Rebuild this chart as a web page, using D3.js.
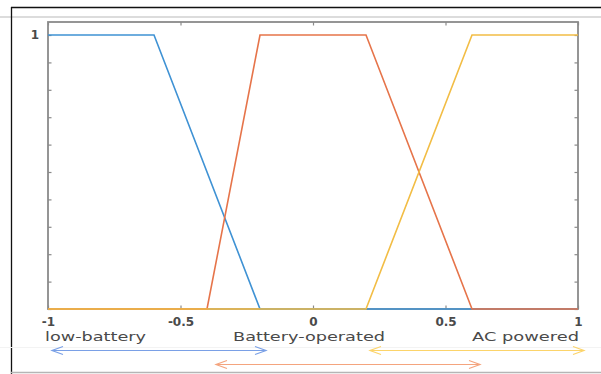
<!DOCTYPE html>
<html>
<head>
<meta charset="utf-8">
<script src="https://cdn.jsdelivr.net/npm/d3@7/dist/d3.min.js"></script>
<style>
  html, body { margin: 0; padding: 0; background: #fff; }
  svg { display: block; }
  text { font-family: "DejaVu Sans", sans-serif; }
</style>
</head>
<body>
<svg id="chart" width="601" height="374"></svg>
<script>
// Membership functions of the power-source input (trapezoids)
const seriesNames = ["low-battery", "Battery-operated", "AC powered"];
const lowBatteryX = [-1, -0.6, -0.2, 1];
const lowBatteryY = [1, 1, 0, 0];
const batteryOpX = [-1, -0.4, -0.2, 0.2, 0.6, 1];
const batteryOpY = [0, 0, 1, 1, 0, 0];
const acPoweredX = [-1, 0.2, 0.6, 1];
const acPoweredY = [0, 0, 1, 1];
const xTicks = [-1, -0.5, 0, 0.5, 1];
const xTickLabels = ["-1", "-0.5", "0", "0.5", "1"];
const yTicks = [0, 0.1, 0.2, 0.3, 0.4, 0.5, 0.6, 0.7, 0.8, 0.9, 1];
const yTickLabels = ["", "", "", "", "", "", "", "", "", "", "1"];
// Range of each set along the input, shown as arrows below the axis
const rangeStart = [-1, -0.4, 0.2];
const rangeEnd = [-0.2, 0.6, 1];

const lineColors = ["#3f92d4", "#e6744a", "#f2bd45"];
const arrowColors = ["#7aa0e6", "#f4a47e", "#fcd46a"];

const svg = d3.select("#chart");
const x = d3.scaleLinear().domain([-1, 1]).range([48, 578]);
const y = d3.scaleLinear().domain([0, 1.0475]).range([309, 22]);

// Outer figure frame
svg.append("line").attr("x1", 0).attr("x2", 601).attr("y1", 17).attr("y2", 17)
  .attr("stroke", "#dcdcdc").attr("stroke-width", 2);
svg.append("line").attr("x1", 11).attr("x2", 601).attr("y1", 7.5).attr("y2", 7.5)
  .attr("stroke", "#111").attr("stroke-width", 1.3);
svg.append("line").attr("x1", 11.5).attr("x2", 11.5).attr("y1", 7).attr("y2", 374)
  .attr("stroke", "#111").attr("stroke-width", 1.3);
svg.append("line").attr("x1", 0).attr("x2", 601).attr("y1", 347.5).attr("y2", 347.5)
  .attr("stroke", "#f3f3f3").attr("stroke-width", 1);
svg.append("line").attr("x1", 11).attr("x2", 601).attr("y1", 372.5).attr("y2", 372.5)
  .attr("stroke", "#b5b5b5").attr("stroke-width", 1.5);

// Axes box with inward ticks
const axisColor = "#8a8a8a";
const tickLen = 3.5;
const axG = svg.append("g");
axG.append("rect").attr("x", x(-1)).attr("y", y(1.0475))
  .attr("width", x(1) - x(-1)).attr("height", y(0) - y(1.0475))
  .attr("fill", "none").attr("stroke", axisColor).attr("stroke-width", 1.8);

const bottomAxis = d3.axisBottom(x).tickValues(xTicks).tickSize(-tickLen)
  .tickFormat((d, i) => xTickLabels[i]).tickPadding(8);
const topAxis = d3.axisTop(x).tickValues(xTicks).tickSize(-tickLen).tickFormat("");
const leftAxis = d3.axisLeft(y).tickValues(yTicks).tickSize(-tickLen)
  .tickFormat((d, i) => yTickLabels[i]).tickPadding(9);
const rightAxis = d3.axisRight(y).tickValues(yTicks).tickSize(-tickLen).tickFormat("");

function styleAxis(g) {
  g.select(".domain").remove();
  g.selectAll(".tick line").attr("stroke", axisColor).attr("stroke-width", 1.2);
  g.selectAll(".tick text").attr("fill", "#444").attr("font-size", 12)
    .attr("font-family", "DejaVu Sans, sans-serif");
}
axG.append("g").attr("transform", `translate(0,${y(0)})`).call(bottomAxis).call(styleAxis);
axG.append("g").attr("transform", `translate(0,${y(1.0475)})`).call(topAxis).call(styleAxis);
axG.append("g").attr("transform", `translate(${x(-1)},0)`).call(leftAxis).call(styleAxis);
axG.append("g").attr("transform", `translate(${x(1)},0)`).call(rightAxis).call(styleAxis);
axG.selectAll(".tick text").attr("font-weight", "bold").attr("fill", "#4a4a4a");

// Membership curves
const series = [
  lowBatteryX.map((v, i) => [v, lowBatteryY[i]]),
  batteryOpX.map((v, i) => [v, batteryOpY[i]]),
  acPoweredX.map((v, i) => [v, acPoweredY[i]])
];
const line = d3.line().x(d => x(d[0])).y(d => y(d[1]));
svg.append("g").selectAll("path").data(series).join("path")
  .attr("d", line).attr("fill", "none")
  .attr("stroke", (d, i) => lineColors[i]).attr("stroke-width", 1.6);

// Set names under the axis
const labelG = svg.append("g").attr("fill", "#4a4a4a").attr("font-size", 12.5);
labelG.append("text").attr("x", 45).attr("y", 340.5).attr("textLength", 101)
  .attr("lengthAdjust", "spacingAndGlyphs").text(seriesNames[0]);
labelG.append("text").attr("x", 233).attr("y", 340.5).attr("textLength", 152)
  .attr("lengthAdjust", "spacingAndGlyphs").text(seriesNames[1]);
labelG.append("text").attr("x", 472).attr("y", 340.5).attr("textLength", 107)
  .attr("lengthAdjust", "spacingAndGlyphs").text(seriesNames[2]);

// Double-headed range arrows
const arrowY = [350.5, 364.5, 350.5];
const padStart = [4, 9, 4];
const padEnd = [6, 8, 6];
const arrowG = svg.append("g").attr("fill", "none").attr("stroke-width", 1.2);
rangeStart.forEach((s, i) => {
  const x0 = x(s) + padStart[i], x1 = x(rangeEnd[i]) + padEnd[i];
  const yy = arrowY[i];
  const g = arrowG.append("g").attr("stroke", arrowColors[i]);
  g.append("line").attr("x1", x0).attr("x2", x1).attr("y1", yy).attr("y2", yy);
  g.append("path").attr("d", `M${x0 + 11},${yy - 4}L${x0},${yy}L${x0 + 11},${yy + 4}`);
  g.append("path").attr("d", `M${x1 - 11},${yy - 4}L${x1},${yy}L${x1 - 11},${yy + 4}`);
});
</script>
</body>
</html>
